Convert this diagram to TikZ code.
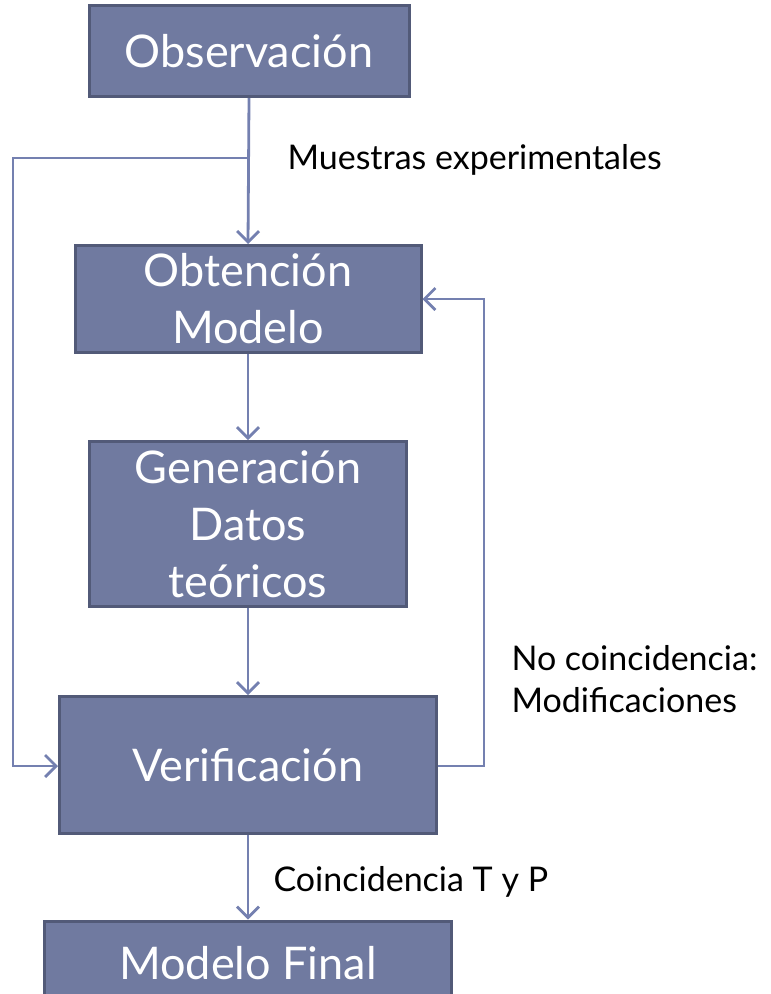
\documentclass[tikz,border=0pt]{standalone}
\usepackage{fontspec}
\setmainfont{Lato}
\usetikzlibrary{arrows.meta}
\definecolor{boxblue}{RGB}{112,122,160}
\definecolor{boxedge}{RGB}{82,90,120}
\definecolor{linkblue}{RGB}{116,128,176}
\gdef\Bfill{boxblue}
\tikzset{
  stepbox/.style={draw=boxedge, line width=3pt, fill=\Bfill, text=white, align=center,
    inner sep=0pt, font=\fontsize{45}{57}\selectfont},
  link/.style={->, draw=linkblue, line width=2.8pt},
  note/.style={anchor=west, align=left, font=\fontsize{34}{42}\selectfont}
}

\begin{document}
\begin{tikzpicture}[x=1pt, y=-1pt, >={Straight Barb[length=11pt, width=22pt]}]
\useasboundingbox (0,0) rectangle (771,994);
\node[stepbox, minimum width=320, minimum height=91] (O) at (249,51) {Observación};
\node[stepbox, minimum width=346, minimum height=107] (M) at (248,299) {Obtención\\Modelo};
\node[stepbox, minimum width=317, minimum height=165] (G) at (248,524) {Generación\\Datos\\teóricos};
\node[stepbox, minimum width=377, minimum height=137] (V) at (248,765) {Verificación};
\node[stepbox, minimum width=407, minimum height=84] (F) at (248,963) {Modelo Final};
\coordinate (s) at (249,158);
\coordinate (l1) at (13,158);
\coordinate (l2) at (13,766);
\coordinate (r1) at (484,766);
\coordinate (r2) at (484,299);
\draw[link] (O.south) -- (M.north);
\draw[link] (s) -- (l1) -- (l2) -- (V.west |- l2);
\draw[link] (M.south) -- (G.north);
\draw[link] (G.south) -- (V.north);
\draw[link] (V.east |- r1) -- (r1) -- (r2) -- (M.east |- r2);
\draw[link] (V.south) -- (F.north);
\node[note] (t1) at (284,160) {Muestras experimentales};
\node[note] (t2) at (508,679) {No coincidencia:\\Modificaciones};
\node[note] (t3) at (270,882) {Coincidencia T y P};
\end{tikzpicture}
\end{document}
